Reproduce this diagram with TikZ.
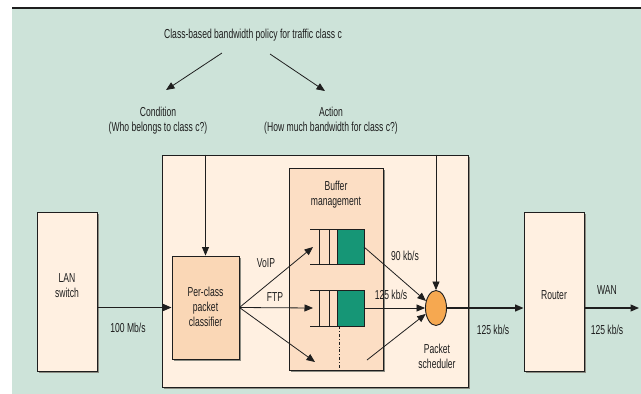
\documentclass[tikz,border=0pt]{standalone}
\usepackage{fontspec}
\setmainfont{Liberation Sans}[FakeStretch=0.66]
\usetikzlibrary{arrows.meta,shapes.geometric}
\definecolor{bggreen}{RGB}{205,227,217}
\definecolor{paleP}{RGB}{255,240,225}
\definecolor{midP}{RGB}{252,222,196}
\definecolor{deepP}{RGB}{250,215,182}
\definecolor{qgreen}{RGB}{22,150,118}
\definecolor{sorange}{RGB}{246,168,80}
\definecolor{linec}{RGB}{30,30,30}
\definecolor{shadowc}{RGB}{140,140,130}
\tikzset{
  box/.style={draw=linec, line width=0.9pt},
  shad/.style={fill=shadowc, draw=none},
  lbl/.style={font=\fontsize{13}{14}\selectfont, text=linec, inner sep=0pt, align=center},
  arr/.style={draw=linec, line width=0.8pt, -{Triangle[length=8.5pt,width=7pt]}},
  harr/.style={draw=linec, line width=1.2pt, -{Triangle[length=8.5pt,width=7pt]}},
  thin/.style={draw=linec, line width=0.8pt},
}
\begin{document}
\begin{tikzpicture}[x=1pt,y=-1pt]
\useasboundingbox (0,0) rectangle (641,394);
% background
\fill[bggreen] (12,9) rectangle (641,394);
\draw[line width=2pt, draw=linec] (12,8) -- (641,8);
% top texts
\node[lbl] (title) at (253,35) {Class-based bandwidth policy for traffic class c};
\node[lbl] (cond) at (158,120.5) {Condition\\[1pt](Who belongs to class c?)};
\node[lbl] (act) at (331,120.5) {Action\\[1pt](How much bandwidth for class c?)};
\coordinate (t1) at (222,53);
\coordinate (t2) at (270,54);
\coordinate (c1) at (166,90);
\coordinate (a1) at (325,91);
\draw[arr] (t1) -- (c1);
\draw[arr] (t2) -- (a1);
% shadows
\fill[shad] (163.5,156.5) rectangle (469.5,388.5);
\fill[shad] (38.5,213.5) rectangle (98.5,372.5);
\fill[shad] (525.5,213.5) rectangle (585.5,372.5);
% outer box
\node[box, fill=paleP, minimum width=306pt, minimum height=232pt, inner sep=0pt] (outer) at (315,271) {};
% LAN switch
\node[box, fill=paleP, minimum width=60pt, minimum height=159pt, inner sep=0pt] (lan) at (67,291.5) {};
\node[lbl] at (67,286) {LAN\\[1pt]switch};
% Router
\node[box, fill=paleP, minimum width=60pt, minimum height=159pt, inner sep=0pt] (router) at (554,291.5) {};
\node[lbl] at (554,295) {Router};
% classifier
\fill[shad] (173.5,257.5) rectangle (240.5,360.5);
\node[box, fill=deepP, minimum width=67pt, minimum height=103pt, inner sep=0pt] (cls) at (205.5,307.5) {};
\node[lbl] at (205.5,307) {Per-class\\[1pt]packet\\[1pt]classifier};
% buffer management
\fill[shad] (290.5,169.5) rectangle (384.5,371.5);
\node[box, fill=midP, minimum width=94pt, minimum height=202pt, inner sep=0pt] (buf) at (336,269) {};
\node[lbl] at (336,195) {Buffer\\[1pt]management};
% queue 1
\fill[qgreen] (337,229) rectangle (364,264);
\draw[thin] (310,229) -- (364,229) -- (364,264) -- (310,264);
\draw[thin] (319,229) -- (319,264) (329,229) -- (329,264) (337,229) -- (337,264);
\coordinate (q1in) at (313,247);
\coordinate (q1out) at (364,247);
% queue 2
\fill[qgreen] (337,290) rectangle (364,326);
\draw[thin] (310,290) -- (364,290) -- (364,326) -- (310,326);
\draw[thin] (319,290) -- (319,326) (329,290) -- (329,326) (337,290) -- (337,326);
\coordinate (q2in) at (313,308);
\coordinate (q2out) at (364,308);
\coordinate (q3in) at (315,362);
\coordinate (q3out) at (367,360);
\draw[thin, dash dot] (339,326) -- (339,370);
% scheduler
\node[ellipse, draw=linec, line width=0.9pt, fill=sorange, minimum width=21pt, minimum height=35pt, inner sep=0pt] (sched) at (436,308) {};
\node[lbl] at (437,356) {Packet\\[1pt]scheduler};
% vertical lines from top
\draw[arr] (outer.north -| cls.north) -- (cls.north);
\draw[arr] (outer.north -| sched.north) -- (sched.north);
% flows
\draw[harr] (lan.east |- cls.west) -- (cls.west);
\draw[arr] (cls.east) -- (q1in);
\draw[arr] (cls.east) -- (q2in);
\draw[arr] (cls.east) -- (q3in);
\draw[arr] (q1out) -- (sched.145);
\draw[arr] (q2out) -- (sched.west);
\draw[arr] (q3out) -- (sched.210);
\draw[harr] (sched.east) -- (router.west |- sched.east);
\coordinate (wanend) at (639,308);
\draw[harr] (router.east |- sched.east) -- (wanend);
% labels
\node[lbl] at (128,328) {100 Mb/s};
\node[lbl] at (266,263) {VoIP};
\node[lbl] at (275,297) {FTP};
\node[lbl] at (405,256) {90 kb/s};
\node[lbl] at (391,295) {125 kb/s};
\node[lbl] at (493,330) {125 kb/s};
\node[lbl] at (607,290) {WAN};
\node[lbl] at (607,330) {125 kb/s};
\end{tikzpicture}
\end{document}
